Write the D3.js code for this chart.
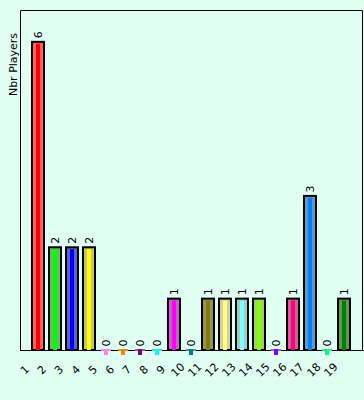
<!DOCTYPE html>
<html>
<head>
<meta charset="utf-8">
<script src="https://cdn.jsdelivr.net/npm/d3@7"></script>
<style>
  html, body { margin: 0; padding: 0; background: #e0fff2; }
  svg { display: block; }
</style>
</head>
<body>
<div id="chart"></div>
<script>
const labels = ["1","2","3","4","5","6","7","8","9","10","11","12","13","14","15","16","17","18","19"];
const players = [6, 2, 2, 2, 0, 0, 0, 0, 1, 0, 1, 1, 1, 1, 0, 1, 3, 0, 1];
const colors = ["#ff0000","#00ff00","#0000ff","#ffff00","#ff80ff","#ff8000","#800080","#00ffff","#ff00ff","#008080",
                "#808000","#ffff80","#80ffff","#80ff00","#8000ff","#ff0080","#0080ff","#00ff80","#008000"];
const lightColors = ["#ff6060","#60c060","#6060c0","#c8c860","#e090e0","#d09050","#906090","#60c8c8","#c860c8","#509090",
                     "#989060","#d8d098","#98d0d0","#a0d060","#9860d0","#d06098","#6098d0","#60d098","#609860"];

const data = labels.map((d, i) => ({ x: d, y: players[i], c: colors[i], lc: lightColors[i] }));

const width = 364, height = 400;
const margin = { top: 10, right: 1, bottom: 50, left: 20 };
const base = height - margin.bottom;

const svg = d3.select("#chart")
    .append("svg")
    .attr("width", width)
    .attr("height", height);

const xScale = d3.scaleBand()
    .domain(labels)
    .range([29.5, 352.5])
    .padding(0);

const yScale = d3.scaleLinear()
    .domain([0, 6.62])
    .range([base, margin.top]);

const cx = d => xScale(d.x) + xScale.bandwidth() / 2;

// frame
svg.append("path")
    .attr("d", `M${margin.left + 0.5},${base} V${margin.top + 0.5} H${width - margin.right - 0.5} V${base}`)
    .attr("fill", "none")
    .attr("stroke", "#000")
    .attr("stroke-width", 1);

// x axis
const xAxis = svg.append("g")
    .attr("transform", `translate(0,${base})`)
    .call(d3.axisBottom(xScale).tickSize(0).tickPadding(0));
xAxis.select(".domain").remove();
xAxis.selectAll("text")
    .attr("y", 0)
    .attr("dy", null)
    .attr("x", 0)
    .attr("transform", "translate(-13,20) rotate(-45)")
    .attr("dominant-baseline", "central")
    .style("text-anchor", "middle")
    .style("font-family", "DejaVu Sans")
    .style("font-size", "11px")
    .attr("fill", "#000");
svg.append("line")
    .attr("x1", margin.left)
    .attr("x2", width)
    .attr("y1", base + 0.5)
    .attr("y2", base + 0.5)
    .attr("stroke", "#000");

// bars
const bars = svg.selectAll(".bar")
    .data(data)
    .enter()
    .append("g")
    .attr("class", "bar");

bars.filter(d => d.y > 0).append("rect")
    .attr("x", d => cx(d) - 6)
    .attr("y", d => yScale(d.y))
    .attr("width", 12)
    .attr("height", d => base - yScale(d.y))
    .attr("fill", d => d.lc)
    .attr("stroke", "#000")
    .attr("stroke-width", 2);

bars.filter(d => d.y > 0).append("rect")
    .attr("x", d => cx(d) - 2)
    .attr("y", d => yScale(d.y) + 2)
    .attr("width", 4)
    .attr("height", d => base - yScale(d.y) - 2)
    .attr("fill", d => d.c);

bars.filter(d => d.y === 0).append("rect")
    .attr("x", d => cx(d) - 5)
    .attr("y", base - 1)
    .attr("width", 10)
    .attr("height", 2)
    .attr("fill", d => d.lc);

bars.filter(d => d.y === 0).append("rect")
    .attr("x", d => cx(d) - 2)
    .attr("y", base - 1)
    .attr("width", 4)
    .attr("height", 6)
    .attr("fill", d => d.c);

// value labels
bars.append("text")
    .attr("transform", d => `translate(${cx(d) + 3.5},${yScale(d.y) - 3.5}) rotate(-90)`)
    .attr("text-anchor", "start")
    .style("font-family", "DejaVu Sans")
    .style("font-size", "11px")
    .attr("fill", "#000")
    .text(d => d.y);

// y axis label
svg.append("text")
    .attr("transform", `translate(17,64.5) rotate(-90)`)
    .attr("text-anchor", "middle")
    .style("font-family", "DejaVu Sans")
    .style("font-size", "11px")
    .attr("fill", "#000")
    .text("Nbr Players");
</script>
</body>
</html>
